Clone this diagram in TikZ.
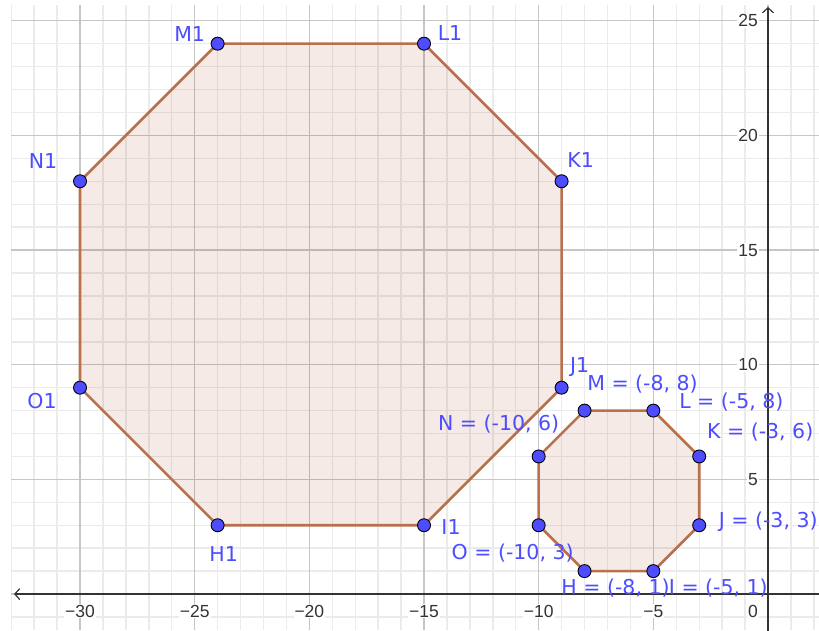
\documentclass[tikz,border=0pt]{standalone}
\usepackage{fontspec}
\setmainfont{Liberation Sans}
\newfontfamily\labelfont{DejaVu Sans}
\usetikzlibrary{arrows.meta}
\definecolor{PointBlue}{HTML}{4D4DFF}
\definecolor{EdgeBrown}{HTML}{B8704D}
\definecolor{FaceBrown}{HTML}{993300}
\definecolor{GridMinor}{HTML}{EBEBEB}
\definecolor{GridMajor}{HTML}{C6C6C6}
\definecolor{AxisGray}{HTML}{333333}
\tikzset{
    minorgrid/.style={
        draw=GridMinor,
        line width=1.4pt
    },
    majorgrid/.style={
        draw=GridMajor,
        line width=1.2pt
    },
    axisline/.style={
        -{Straight Barb[length=5pt,width=11pt]},
        draw=AxisGray,
        line width=1.2pt
    },
    ticklabel/.style={
        fill=white,
        inner sep=1pt,
        text=AxisGray,
        font=\fontsize{17.5}{20}\selectfont
    },
    octagon/.style={
        draw=EdgeBrown,
        line width=2.6pt,
        line join=round,
        fill=FaceBrown,
        fill opacity=0.1
    },
    dot/.style={
        circle,
        fill=PointBlue,
        draw=black,
        line width=0.9pt,
        minimum size=13pt,
        inner sep=0pt
    },
    ptlabel/.style={
        text=PointBlue,
        inner sep=0pt,
        font=\labelfont\fontsize{20.5}{24}\selectfont
    }
}
\begin{document}
\begin{tikzpicture}[x=22.93pt, y=22.93pt]
    \useasboundingbox (-33.49,-1.57) rectangle (2.224,25.905);
    \clip (-33.49,-1.57) rectangle (2.224,25.905);

    % grid
    \draw[minorgrid, step=1] (-33,-1.57) grid (2.3,25.7);
    \draw[majorgrid, step=5] (-33,-1.57) grid (2.3,25.7);

    % axes
    \coordinate (xright) at (2.3,0);
    \coordinate (xleft) at (-32.88,0);
    \coordinate (ybottom) at (0,-1.6);
    \coordinate (ytop) at (0,25.6);
    \draw[axisline] (xright) -- (xleft);
    \draw[axisline] (ybottom) -- (ytop);

    \foreach \v in {-30,-25,...,-5} {
        \pgfmathtruncatemacro\a{-\v}
        \node[ticklabel] (tx\a) at (\v,-0.75) {−\a};
    }
    \foreach \v in {5,10,...,25}
        \node[ticklabel, anchor=east] (ty\v) at (-0.39,\v) {\v};
    \node[ticklabel] (t0) at (-0.65,-0.74) {0};

    % vertices
    \foreach \n/\x/\y in {H1/-24/3, I1/-15/3, J1/-9/9, K1/-9/18, L1/-15/24,
                          M1/-24/24, N1/-30/18, O1/-30/9,
                          H/-8/1, I/-5/1, J/-3/3, K/-3/6, L/-5/8,
                          M/-8/8, N/-10/6, O/-10/3}
        \coordinate (\n) at (\x,\y);

    \draw[octagon] (H1) -- (I1) -- (J1) -- (K1) -- (L1) -- (M1) -- (N1) -- (O1) -- cycle;
    \draw[octagon] (H) -- (I) -- (J) -- (K) -- (L) -- (M) -- (N) -- (O) -- cycle;

    \foreach \n in {H1,I1,J1,K1,L1,M1,N1,O1,H,I,J,K,L,M,N,O}
        \node[dot] (dot\n) at (\n) {};

    % labels
    \node[ptlabel] (labM1) at ([shift={(-28pt,10pt)}]M1) {M1};
    \node[ptlabel] (labL1) at ([shift={(26pt,11pt)}]L1) {L1};
    \node[ptlabel] (labK1) at ([shift={(19pt,21pt)}]K1) {K1};
    \node[ptlabel] (labN1) at ([shift={(-37pt,20pt)}]N1) {N1};
    \node[ptlabel] (labO1) at ([shift={(-38pt,-13pt)}]O1) {O1};
    \node[ptlabel] (labH1) at ([shift={(6pt,-29pt)}]H1) {H1};
    \node[ptlabel] (labI1) at ([shift={(27pt,-2pt)}]I1) {I1};
    \node[ptlabel] (labJ1) at ([shift={(18pt,21pt)}]J1) {J1};

    \node[ptlabel] (labM) at ([shift={(58pt,27pt)}]M) {M = (-8, 8)};
    \node[ptlabel] (labL) at ([shift={(78pt,9pt)}]L) {L = (-5, 8)};
    \node[ptlabel] (labK) at ([shift={(61pt,24pt)}]K) {K = (-3, 6)};
    \node[ptlabel] (labJ) at ([shift={(69pt,3pt)}]J) {J = (-3, 3)};
    \node[ptlabel] (labN) at ([shift={(-40pt,32pt)}]N) {N = (-10, 6)};
    \node[ptlabel] (labO) at ([shift={(-26pt,-28pt)}]O) {O = (-10, 3)};
    \node[ptlabel] (labH) at ([shift={(31pt,-17pt)}]H) {H = (-8, 1)};
    \node[ptlabel] (labI) at ([shift={(65pt,-17pt)}]I) {I = (-5, 1)};
\end{tikzpicture}
\end{document}
